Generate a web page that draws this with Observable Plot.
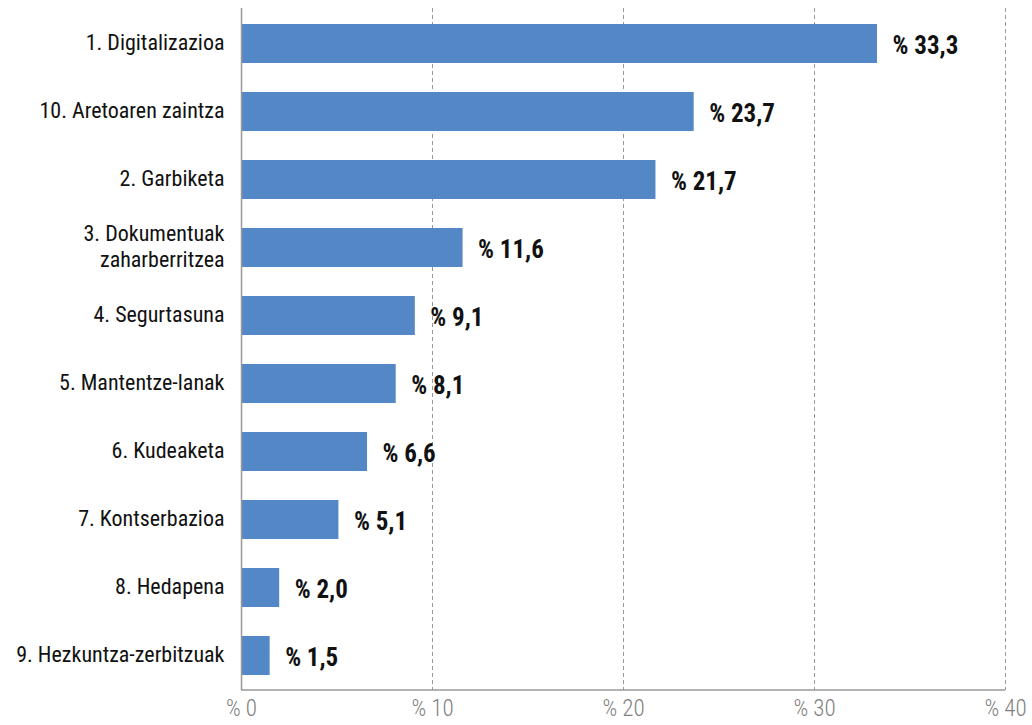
<!DOCTYPE html>
<html><head><meta charset="utf-8">
<script src="https://cdn.jsdelivr.net/npm/d3@7"></script>
<script src="https://cdn.jsdelivr.net/npm/@observablehq/plot@0.6"></script>
<style>
body{margin:0;background:#fff;}
svg{font-family:"Liberation Sans Narrow","Roboto Condensed",Roboto,sans-serif;}
</style></head>
<body><div id="chart"></div>
<script>
const categories = ["1. Digitalizazioa","10. Aretoaren zaintza","2. Garbiketa","3. Dokumentuak\nzaharberritzea","4. Segurtasuna","5. Mantentze-lanak","6. Kudeaketa","7. Kontserbazioa","8. Hedapena","9. Hezkuntza-zerbitzuak"];
const values = [33.3,23.7,21.7,11.6,9.1,8.1,6.6,5.1,2.0,1.5];
const xTicks = [0,10,20,30,40];
const data = categories.map((c,i)=>({cat:c,v:values[i]}));
const fmt = v => "% " + v.toFixed(1).replace(".", ",");
const chart = Plot.plot({
  width:1032, height:725,
  marginLeft:241, marginRight:27, marginTop:8, marginBottom:35,
  style:{fontFamily:'"Liberation Sans Narrow","Roboto Condensed",Roboto,sans-serif', background:"#fff"},
  x:{domain:[0,40]},
  y:{domain:categories, paddingInner:0.43, paddingOuter:0.215},
  marks:[
    Plot.gridX(xTicks.slice(1), {stroke:"#999", strokeOpacity:1, strokeDasharray:"4,3", strokeWidth:1}),
    Plot.barX(data,{x:"v", y:"cat", fill:"#5387c6"}),
    Plot.text(data,{x:"v", y:"cat", text:d=>fmt(d.v), dx:15, dy:2, textAnchor:"start", fontWeight:"bold", fontSize:25, fill:"#111"}),
    Plot.ruleX([0],{stroke:"#999", strokeWidth:1.5}),
    Plot.axisY({tickSize:0, tickPadding:17, fontSize:22, label:null, lineHeight:1.15, dy:-2, color:"#111"}),
    Plot.axisX({ticks:xTicks, tickSize:0, tickPadding:9, fontSize:23, fontWeight:300, label:null, tickFormat:d=>"% "+d, color:"#808080"})
  ]
});
d3.select(chart).append("line").attr("x1",241).attr("x2",1005).attr("y1",690).attr("y2",690).attr("stroke","#999").attr("stroke-width",1.5);
document.getElementById("chart").append(chart);
</script></body></html>
